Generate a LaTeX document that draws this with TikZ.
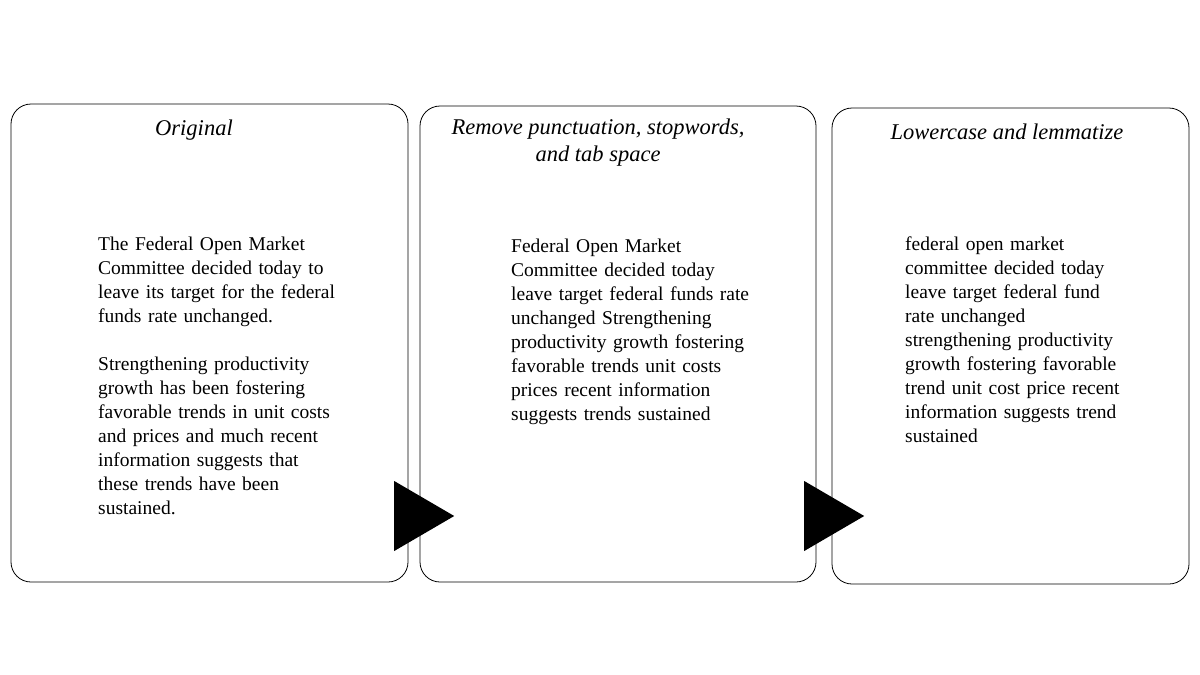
\documentclass[tikz,border=0pt]{standalone}
\usepackage{fontspec}
\setmainfont{Liberation Serif}
\usetikzlibrary{shapes.geometric}

\begin{document}
\begin{tikzpicture}[x=1pt,y=-1pt,
panel/.style = {draw, rounded corners=20pt, line width=0.8pt, inner sep=0pt},
heading/.style = {font=\fontsize{22.5}{27}\selectfont\itshape, align=center, inner sep=0pt},
body/.style = {font=\fontsize{19.5}{24}\selectfont, align=left, anchor=north west, inner sep=0pt},
pointer/.style = {isosceles triangle, isosceles triangle stretches, fill=black, inner sep=0pt,
                  minimum width=70pt, minimum height=60pt, anchor=west}
                        ]
\useasboundingbox (0,0) rectangle (1200,675);
%
\node[panel, minimum width=397pt, minimum height=478pt] (orig)  at (209.5,343) {};
\node[panel, minimum width=396pt, minimum height=476pt] (clean) at (618,344) {};
\node[panel, minimum width=357pt, minimum height=476pt] (lemma) at (1010.5,346) {};
%
\node[heading] (origT)  at (194,130) {Original};
\node[heading] (cleanT) at (598,143) {Remove punctuation, stopwords,\\and tab space};
\node[heading] (lemmaT) at (1007,132) {Lowercase and lemmatize};
%
\node[body, text width=250pt] (origB) at (98,237) {The Federal Open Market\\
Committee decided today to\\ leave its target for the federal\\ funds rate unchanged.\\[24pt]
Strengthening productivity\\ growth has been fostering\\ favorable trends in unit costs\\
and prices and much recent\\ information suggests that\\ these trends have been\\ sustained.};
\node[body, text width=260pt] (cleanB) at (511,239) {Federal Open Market\\
Committee decided today\\ leave target federal funds rate\\ unchanged Strengthening\\
productivity growth fostering\\ favorable trends unit costs\\ prices recent information\\
suggests trends sustained};
\node[body, text width=250pt] (lemmaB) at (905,237) {federal open market\\
committee decided today\\ leave target federal fund\\ rate unchanged\\
strengthening productivity\\ growth fostering favorable\\ trend unit cost price recent\\
information suggests trend\\ sustained};
%
\node[pointer] (p1) at (394,516) {};
\node[pointer] (p2) at (804,516) {};

\end{tikzpicture}
\end{document}
